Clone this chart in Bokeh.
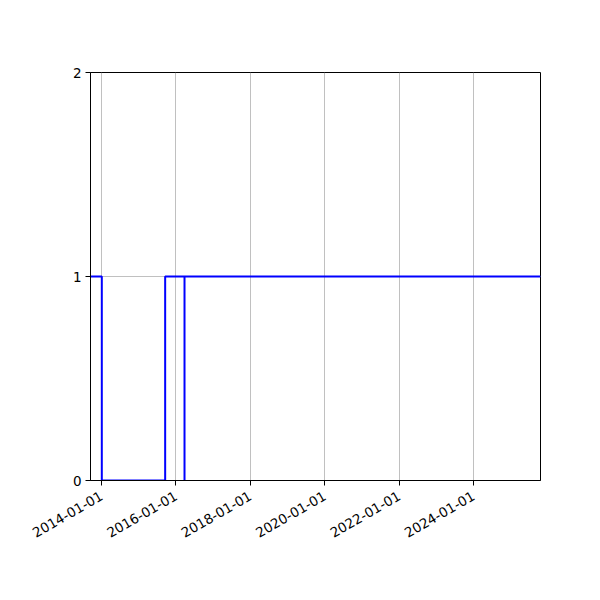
import math
from datetime import datetime
from bokeh.plotting import figure
from bokeh.models import Range1d, FixedTicker, DatetimeTickFormatter
from bokeh.embed import file_html
from bokeh.resources import INLINE

# data
dates = ["2013-09-15", "2014-01-04", "2015-09-18", "2016-03-26", "2016-03-26", "2025-10-20"]
values = [1, 0, 1, 0, 1, 1]
x_start = "2013-09-15"
x_end = "2025-10-20"
x_tick_labels = ["2014-01-01", "2016-01-01", "2018-01-01", "2020-01-01", "2022-01-01", "2024-01-01"]
y_ticks = [0, 1, 2]

def to_dt(s):
    return datetime.strptime(s, "%Y-%m-%d")

def to_ms(s):
    return (to_dt(s) - datetime(1970, 1, 1)).total_seconds() * 1000.0

xs = [to_dt(d) for d in dates]

p = figure(
    x_axis_type="datetime",
    frame_width=450, frame_height=408,
    min_border_left=90, min_border_top=72, min_border_right=60, min_border_bottom=120,
    x_range=Range1d(to_dt(x_start), to_dt(x_end)),
    y_range=Range1d(0, 2),
    output_backend="svg", toolbar_location=None,
)

p.step(xs, values, mode="after", line_color="blue", line_width=2)

p.outline_line_color = "black"
p.outline_line_width = 1
p.outline_line_alpha = 1

p.xaxis.ticker = FixedTicker(ticks=[to_ms(t) for t in x_tick_labels])
p.xaxis.formatter = DatetimeTickFormatter(days="%Y-%m-%d", months="%Y-%m-%d", years="%Y-%m-%d")
p.xaxis.major_label_orientation = math.pi / 6
p.yaxis.ticker = FixedTicker(ticks=y_ticks)

for ax in (p.xaxis, p.yaxis):
    ax.axis_line_color = "black"
    ax.major_tick_line_color = "black"
    ax.major_tick_in = 0
    ax.major_tick_out = 5
    ax.minor_tick_line_color = None
    ax.major_label_text_font = "DejaVu Sans"
    ax.major_label_text_font_size = "13.5px"
    ax.major_label_text_color = "black"
    ax.major_label_standoff = 4

p.xaxis.major_label_standoff = 9

p.xgrid.grid_line_color = "#b0b0b0"
p.ygrid.grid_line_color = "#b0b0b0"
p.xgrid.grid_line_width = 0.8
p.ygrid.grid_line_width = 0.8
p.background_fill_color = "white"
p.border_fill_color = "white"

open("out.html", "w").write(file_html(p, INLINE))
